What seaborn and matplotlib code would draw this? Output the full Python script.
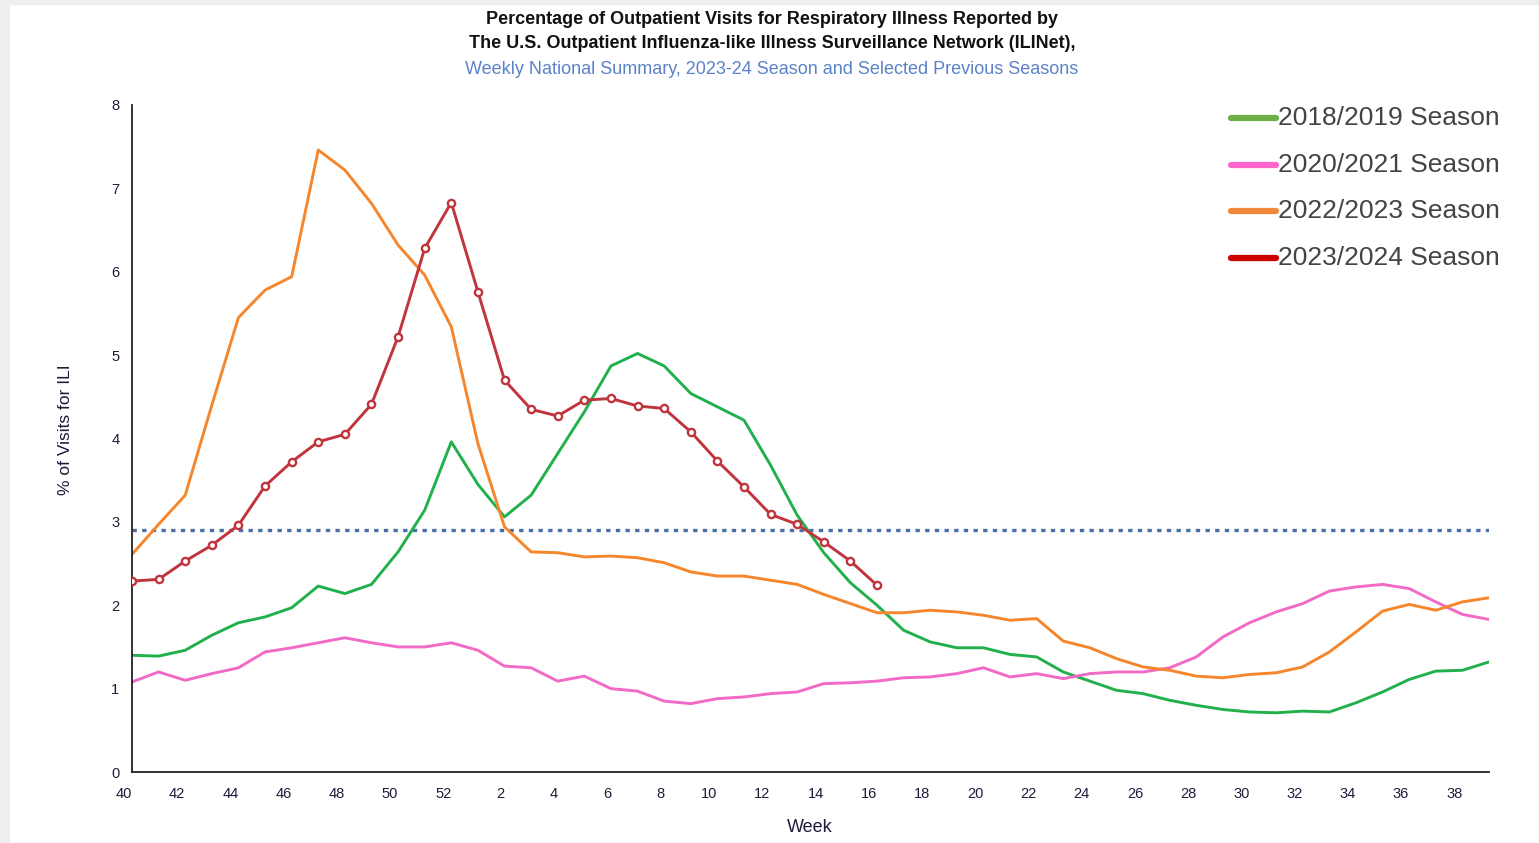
import numpy as np
import pandas as pd
import matplotlib
matplotlib.use("Agg")
import matplotlib.pyplot as plt
from matplotlib.lines import Line2D
from matplotlib.patches import Rectangle
import seaborn as sns

# --- data ---
weeks = list(range(40, 53)) + list(range(1, 40))

ili_2018_19 = [1.40, 1.39, 1.46, 1.64, 1.79, 1.86, 1.97, 2.23, 2.14, 2.25,
               2.64, 3.14, 3.96, 3.45, 3.06, 3.32, 3.82, 4.32, 4.87, 5.02,
               4.87, 4.54, 4.38, 4.22, 3.68, 3.08, 2.63, 2.27, 2.00, 1.70,
               1.56, 1.49, 1.49, 1.41, 1.38, 1.20, 1.09, 0.98, 0.94, 0.86,
               0.80, 0.75, 0.72, 0.71, 0.73, 0.72, 0.83, 0.96, 1.11, 1.21,
               1.22, 1.32]

ili_2020_21 = [1.08, 1.20, 1.10, 1.18, 1.25, 1.44, 1.49, 1.55, 1.61, 1.55,
               1.50, 1.50, 1.55, 1.46, 1.27, 1.25, 1.09, 1.15, 1.00, 0.97,
               0.85, 0.82, 0.88, 0.90, 0.94, 0.96, 1.06, 1.07, 1.09, 1.13,
               1.14, 1.18, 1.25, 1.14, 1.18, 1.12, 1.18, 1.20, 1.20, 1.25,
               1.38, 1.62, 1.79, 1.92, 2.02, 2.17, 2.22, 2.25, 2.20, 2.04,
               1.89, 1.83]

ili_2022_23 = [2.61, 2.97, 3.32, 4.40, 5.45, 5.78, 5.94, 7.46, 7.22, 6.82,
               6.32, 5.96, 5.34, 3.94, 2.94, 2.64, 2.63, 2.58, 2.59, 2.57,
               2.51, 2.40, 2.35, 2.35, 2.30, 2.25, 2.13, 2.02, 1.91, 1.91,
               1.94, 1.92, 1.88, 1.82, 1.84, 1.57, 1.49, 1.36, 1.26, 1.22,
               1.15, 1.13, 1.17, 1.19, 1.26, 1.44, 1.68, 1.93, 2.01, 1.94,
               2.04, 2.09]

ili_2023_24 = [2.29, 2.31, 2.53, 2.72, 2.96, 3.43, 3.72, 3.96, 4.05, 4.41,
               5.22, 6.28, 6.83, 5.76, 4.70, 4.35, 4.27, 4.46, 4.48, 4.39,
               4.36, 4.08, 3.73, 3.42, 3.09, 2.97, 2.76, 2.53, 2.24]

baseline = 2.9

season_names = ["2018/2019 Season", "2020/2021 Season",
                "2022/2023 Season", "2023/2024 Season"]
line_colors = ["#22b04c", "#f06ac6", "#f5862c", "#c0343e"]
legend_colors = ["#6cb046", "#ff66cc", "#f0883a", "#cc0000"]

# long-form table
frames = []
for name, vals in zip(season_names, [ili_2018_19, ili_2020_21, ili_2022_23, ili_2023_24]):
    frames.append(pd.DataFrame({"pos": np.arange(len(vals)),
                                "week": weeks[:len(vals)],
                                "ili": vals,
                                "season": name}))
df = pd.concat(frames, ignore_index=True)

sns.set_style("white")
plt.rcParams["font.family"] = ["Liberation Sans", "DejaVu Sans"]

fig = plt.figure(figsize=(15.39, 8.43), dpi=100)
ax = fig.add_axes([132 / 1539, 1 - 772 / 843, (1489 - 132) / 1539, (772 - 105) / 843])

# light grey frame strips like the screenshot
fig.patches.append(Rectangle((0, 1 - 4 / 843), 1, 4 / 843, transform=fig.transFigure,
                             color="#eeeeee", zorder=0))
fig.patches.append(Rectangle((0, 0), 9 / 1539, 1, transform=fig.transFigure,
                             color="#eeeeee", zorder=0))

# baseline
ax.axhline(baseline, color="#4a6ea6", linestyle=(0, (1.3, 1.6)), linewidth=2.4, zorder=1)

for name, col in zip(season_names[:3], line_colors[:3]):
    sns.lineplot(data=df[df["season"] == name], x="pos", y="ili", color=col,
                 linewidth=2.1, ax=ax, legend=False, zorder=2)

sns.lineplot(data=df[df["season"] == season_names[3]], x="pos", y="ili",
             color=line_colors[3], linewidth=2.1, marker="o", markersize=5.2,
             markerfacecolor="white", markeredgecolor=line_colors[3],
             markeredgewidth=1.7, ax=ax, legend=False, zorder=3)

ax.set_xlim(0, len(weeks) - 1)
ax.set_ylim(0, 8)
ax.set_xticks(np.arange(len(weeks)))
ax.set_xticklabels([str(w) if w % 2 == 0 else "" for w in weeks],
                   ha="right", fontsize=10.5, color="#1c1c3a")
ax.set_yticks(range(0, 9))
ax.set_yticklabels([str(v) for v in range(0, 9)], fontsize=10.5, color="#1c1c3a")
ax.tick_params(axis="x", length=8, width=1.3, color="#222222", pad=3)
ax.tick_params(axis="y", length=6, width=1.3, color="#222222", pad=3)
for s in ["top", "right"]:
    ax.spines[s].set_visible(False)
for s in ["left", "bottom"]:
    ax.spines[s].set_color("#222222")
    ax.spines[s].set_linewidth(1.3)

ax.set_xlabel("")
ax.set_ylabel("")
fig.text(66 / 1539, 1 - 430 / 843, "% of Visits for ILI", rotation=90,
         ha="center", va="center", fontsize=12.5, color="#1c1c3a")
fig.text(810 / 1539, 1 - 827 / 843, "Week", ha="center", va="center",
         fontsize=13, color="#1c1c3a")

# titles
fig.text(772 / 1539, 1 - 19 / 843,
         "Percentage of Outpatient Visits for Respiratory Illness Reported by",
         ha="center", va="center", fontsize=13, fontweight="bold", color="#111111")
fig.text(772 / 1539, 1 - 43 / 843,
         "The U.S. Outpatient Influenza-like Illness Surveillance Network (ILINet),",
         ha="center", va="center", fontsize=13, fontweight="bold", color="#111111")
fig.text(772 / 1539, 1 - 69 / 843,
         "Weekly National Summary, 2023-24 Season and Selected Previous Seasons",
         ha="center", va="center", fontsize=13, color="#5b82c8")

# legend drawn by hand at the upper right
for i, (name, col) in enumerate(zip(season_names, legend_colors)):
    yy = 1 - (118 + 46.7 * i) / 843
    fig.add_artist(Line2D([1231 / 1539, 1276 / 1539], [yy, yy], color=col,
                          linewidth=4.5, solid_capstyle="round",
                          transform=fig.transFigure))
    fig.text(1278 / 1539, yy, name, ha="left", va="center",
             fontsize=19, color="#444444")

fig.savefig("out.png", dpi=100)
